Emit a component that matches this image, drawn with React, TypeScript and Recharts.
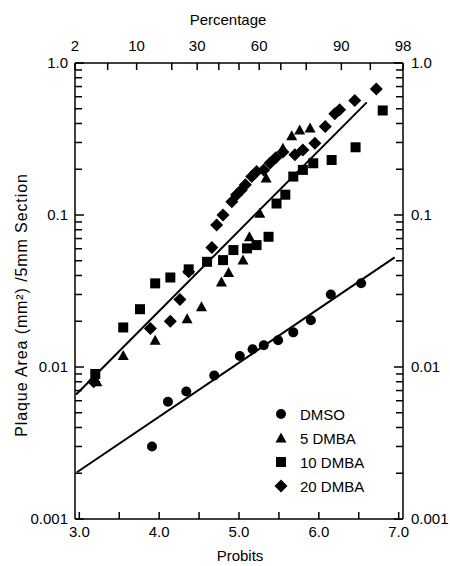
import React from 'react';
import { ComposedChart, Scatter, XAxis, YAxis, Legend } from 'recharts';

// ---- data (probit, plaque area mm^2 / 5mm section) ----
const dmsoProbit = [3.91, 4.11, 4.34, 4.69, 5.01, 5.17, 5.31, 5.49, 5.68, 5.9, 6.15, 6.53];
const dmsoArea = [0.003, 0.0059, 0.0069, 0.0088, 0.0118, 0.0131, 0.0139, 0.015, 0.0169, 0.0203, 0.03, 0.0356];

const dmba5Probit = [3.22, 3.55, 3.95, 4.35, 4.53, 4.78, 4.87, 5.05, 5.13, 5.26, 5.34, 5.55, 5.66, 5.76, 5.89];
const dmba5Area = [0.008, 0.0119, 0.015, 0.0208, 0.0249, 0.0363, 0.0419, 0.0505, 0.0719, 0.1026, 0.175, 0.275, 0.332, 0.363, 0.373];

const dmba10Probit = [3.2, 3.55, 3.76, 3.95, 4.14, 4.37, 4.6, 4.8, 4.93, 5.1, 5.22, 5.37, 5.47, 5.58, 5.68, 5.8, 5.93, 6.16, 6.46, 6.8];
const dmba10Area = [0.009, 0.0182, 0.024, 0.0355, 0.0388, 0.0439, 0.0492, 0.0505, 0.0588, 0.0603, 0.0634, 0.0719, 0.119, 0.136, 0.179, 0.198, 0.219, 0.23, 0.279, 0.487];

const dmba20Probit = [3.18, 3.89, 4.14, 4.26, 4.37, 4.66, 4.72, 4.8, 4.91, 4.97, 5.03, 5.08, 5.16, 5.22, 5.31, 5.39, 5.46, 5.55, 5.7, 5.8, 5.95, 6.08, 6.2, 6.26, 6.45, 6.72];
const dmba20Area = [0.008, 0.0179, 0.02, 0.0278, 0.0423, 0.0612, 0.0859, 0.1, 0.122, 0.136, 0.146, 0.158, 0.179, 0.193, 0.198, 0.22, 0.238, 0.26, 0.249, 0.268, 0.297, 0.382, 0.463, 0.492, 0.567, 0.674];

// fitted regression lines (end points)
const fitDmbaProbit = [2.96, 6.6];
const fitDmbaArea = [0.00659, 0.551];
const fitDmsoProbit = [2.97, 6.95];
const fitDmsoArea = [0.00203, 0.0526];

// ---- axes ----
const bottomTicks = [3, 3.5, 4, 4.5, 5, 5.5, 6, 6.5, 7];
const bottomLabels = ['3.0', '', '4.0', '', '5.0', '', '6.0', '', '7.0'];
const topTickProbits = [2.946, 3.355, 3.718, 4.158, 4.476, 4.747, 5.0, 5.253, 5.524, 5.842, 6.282, 6.645, 7.054];
const topLabels = ['2', '', '10', '', '30', '', '', '60', '', '', '90', '', '98'];
const yTicks = [
  0.001, 0.002, 0.003, 0.004, 0.005, 0.006, 0.007, 0.008, 0.009,
  0.01, 0.02, 0.03, 0.04, 0.05, 0.06, 0.07, 0.08, 0.09,
  0.1, 0.2, 0.3, 0.4, 0.5, 0.6, 0.7, 0.8, 0.9, 1,
];
const yMajor = [0.001, 0.01, 0.1, 1];
const yLabels = ['0.001', '0.01', '0.1', '1.0'];

const legendNames = ['DMSO', '5 DMBA', '10 DMBA', '20 DMBA'];
const legendShapes = ['circle', 'triangle', 'square', 'diamond'];

const toPts = (xs: number[], ys: number[]) => xs.map((x, i) => ({ x, y: ys[i] }));

// layout constants
const W = 450;
const H = 566;
const PL = 75;
const PR = 403;
const PT = 63;
const PB = 519;
const FONT = 'Liberation Sans, Arial, sans-serif';

const markFor = (kind: string, cx: number, cy: number) => {
  if (kind === 'circle') return <circle cx={cx} cy={cy} r={5} fill="#000" />;
  if (kind === 'triangle')
    return <polygon points={`${cx},${cy - 5.5} ${cx - 5.5},${cy + 4.5} ${cx + 5.5},${cy + 4.5}`} fill="#000" />;
  if (kind === 'square') return <rect x={cx - 5} y={cy - 5} width={10} height={10} fill="#000" />;
  return <polygon points={`${cx},${cy - 6.5} ${cx + 6.5},${cy} ${cx},${cy + 6.5} ${cx - 6.5},${cy}`} fill="#000" />;
};

const shapeOf = (kind: string) => (p: any) => markFor(kind, p.cx, p.cy);
const noShape = () => <g />;

const BottomTick = (props: any) => {
  const { x, payload } = props;
  const i = bottomTicks.indexOf(payload.value);
  const label = bottomLabels[i];
  return (
    <g>
      <line x1={x} x2={x} y1={PB} y2={PB - 7} stroke="#000" strokeWidth={1.5} />
      {label ? (
        <text x={x} y={537} textAnchor="middle" fontSize={15} fontFamily={FONT} fill="#000">
          {label}
        </text>
      ) : null}
    </g>
  );
};

const TopTick = (props: any) => {
  const { x, payload } = props;
  const i = topTickProbits.indexOf(payload.value);
  const label = topLabels[i];
  return (
    <g>
      <line x1={x} x2={x} y1={PT} y2={PT + 7} stroke="#000" strokeWidth={1.5} />
      {label ? (
        <text x={x} y={51} textAnchor="middle" fontSize={15} fontFamily={FONT} fill="#000">
          {label}
        </text>
      ) : null}
    </g>
  );
};

const LeftTick = (props: any) => {
  const { y, payload } = props;
  const i = yMajor.indexOf(payload.value);
  const len = i >= 0 ? 9 : 7;
  return (
    <g>
      <line x1={PL} x2={PL + len} y1={y} y2={y} stroke="#000" strokeWidth={1.5} />
      {i >= 0 ? (
        <text x={68} y={y + 5} textAnchor="end" fontSize={15} fontFamily={FONT} fill="#000">
          {yLabels[i]}
        </text>
      ) : null}
    </g>
  );
};

const RightTick = (props: any) => {
  const { y, payload } = props;
  const i = yMajor.indexOf(payload.value);
  const len = i >= 0 ? 9 : 7;
  return (
    <g>
      <line x1={PR} x2={PR - len} y1={y} y2={y} stroke="#000" strokeWidth={1.5} />
      {i >= 0 ? (
        <text x={411} y={y + 5} textAnchor="start" fontSize={15} fontFamily={FONT} fill="#000">
          {yLabels[i]}
        </text>
      ) : null}
    </g>
  );
};

const renderLegend = () => (
  <div style={{ fontFamily: FONT, fontSize: 15, color: '#000' }}>
    {legendNames.map((n, i) => (
      <div key={n} style={{ display: 'flex', alignItems: 'center', height: 24 }}>
        <svg width={18} height={24} style={{ display: 'block' }}>
          {markFor(legendShapes[i], 9, 12)}
        </svg>
        <span style={{ marginLeft: 10 }}>{n}</span>
      </div>
    ))}
  </div>
);

const YTitle = () => (
  <text
    x={23}
    y={305}
    transform="rotate(-90, 23, 305)"
    textAnchor="middle"
    dominantBaseline="middle"
    fontSize={16}
    letterSpacing={0.9}
    fontFamily={FONT}
    fill="#000"
  >
    Plaque Area (mm²) /5mm Section
  </text>
);

const XTitleBottom = () => (
  <text x={240} y={561} textAnchor="middle" fontSize={15} fontFamily={FONT} fill="#000">
    Probits
  </text>
);

const XTitleTop = () => (
  <text x={228} y={25} textAnchor="middle" fontSize={15} fontFamily={FONT} fill="#000">
    Percentage
  </text>
);

export default function App() {
  const axisLine = { stroke: '#000', strokeWidth: 1.5 };
  return (
    <div style={{ position: 'absolute', left: 0, top: 0, width: W, height: H, background: '#fff' }}>
      <ComposedChart width={W} height={H} margin={{ top: 0, right: 0, bottom: 0, left: 0 }}>
        <XAxis
          xAxisId="b"
          type="number"
          dataKey="x"
          orientation="bottom"
          domain={[2.946, 7.054]}
          ticks={bottomTicks}
          interval={0}
          allowDataOverflow
          height={H - PB}
          axisLine={axisLine}
          tickLine={false}
          tick={<BottomTick />}
          label={<XTitleBottom />}
        />
        <XAxis
          xAxisId="t"
          type="number"
          dataKey="x"
          orientation="top"
          domain={[2.946, 7.054]}
          ticks={topTickProbits}
          interval={0}
          allowDataOverflow
          height={PT}
          axisLine={axisLine}
          tickLine={false}
          tick={<TopTick />}
          label={<XTitleTop />}
        />
        <YAxis
          yAxisId="l"
          type="number"
          dataKey="y"
          scale="log"
          domain={[0.001, 1]}
          ticks={yTicks}
          interval={0}
          allowDataOverflow
          width={PL}
          axisLine={axisLine}
          tickLine={false}
          tick={<LeftTick />}
          label={<YTitle />}
        />
        <YAxis
          yAxisId="r"
          orientation="right"
          type="number"
          dataKey="y"
          scale="log"
          domain={[0.001, 1]}
          ticks={yTicks}
          interval={0}
          allowDataOverflow
          width={W - PR}
          axisLine={axisLine}
          tickLine={false}
          tick={<RightTick />}
        />
        <Scatter
          xAxisId="b"
          yAxisId="l"
          data={toPts(fitDmbaProbit, fitDmbaArea)}
          line={{ stroke: '#000', strokeWidth: 2 }}
          shape={noShape}
          isAnimationActive={false}
          legendType="none"
        />
        <Scatter
          xAxisId="b"
          yAxisId="l"
          data={toPts(fitDmsoProbit, fitDmsoArea)}
          line={{ stroke: '#000', strokeWidth: 2 }}
          shape={noShape}
          isAnimationActive={false}
          legendType="none"
        />
        <Scatter xAxisId="b" yAxisId="l" name="DMSO" data={toPts(dmsoProbit, dmsoArea)} shape={shapeOf('circle')} isAnimationActive={false} />
        <Scatter xAxisId="b" yAxisId="l" name="5 DMBA" data={toPts(dmba5Probit, dmba5Area)} shape={shapeOf('triangle')} isAnimationActive={false} />
        <Scatter xAxisId="b" yAxisId="l" name="10 DMBA" data={toPts(dmba10Probit, dmba10Area)} shape={shapeOf('square')} isAnimationActive={false} />
        <Scatter xAxisId="b" yAxisId="l" name="20 DMBA" data={toPts(dmba20Probit, dmba20Area)} shape={shapeOf('diamond')} isAnimationActive={false} />
        <Legend
          layout="vertical"
          align="center"
          verticalAlign="middle"
          content={renderLegend}
          wrapperStyle={{ position: 'absolute', left: 272, top: 402, width: 150, height: 96 }}
        />
      </ComposedChart>
    </div>
  );
}
